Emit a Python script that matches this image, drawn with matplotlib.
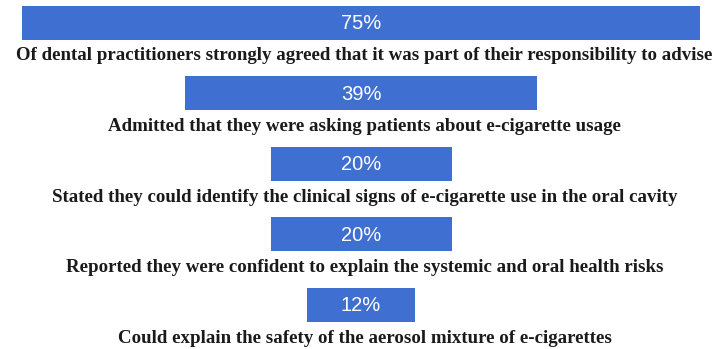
import matplotlib
matplotlib.use("Agg")
import matplotlib.pyplot as plt

values = [75, 39, 20, 20, 12]
value_labels = ["75%", "39%", "20%", "20%", "12%"]
descriptions = [
    "Of dental practitioners strongly agreed that it was part of their responsibility to advise",
    "Admitted that they were asking patients about e-cigarette usage",
    "Stated they could identify the clinical signs of e-cigarette use in the oral cavity",
    "Reported they were confident to explain the systemic and oral health risks",
    "Could explain the safety of the aerosol mixture of e-cigarettes",
]

W, H = 720, 349
fig = plt.figure(figsize=(W / 100, H / 100), dpi=100)
ax = fig.add_axes([0, 0, 1, 1])
ax.set_axis_off()

px_per_pct = 9.05
center_px = 361
ax.set_xlim(-center_px / px_per_pct, (W - center_px) / px_per_pct)
ax.set_ylim(H, 0)

bar_color = "#3F6FD0"
first_center = 22.5
spacing = 70.6
bar_h = 34
label_off = 33.5

for i, (v, vl, d) in enumerate(zip(values, value_labels, descriptions)):
    yc = first_center + i * spacing
    ax.barh(yc, v, left=-v / 2, height=bar_h, color=bar_color, edgecolor="none")
    ax.text(0, yc + 1, vl, ha="center", va="center", color="white",
            fontsize=14.5, family="Liberation Sans")
    ax.text(0.4, yc + label_off, d, ha="center", va="center", color="#1a1a1a",
            fontsize=13.6, fontweight="bold", family="Liberation Serif")

fig.savefig("out.png", dpi=100, facecolor="white")
